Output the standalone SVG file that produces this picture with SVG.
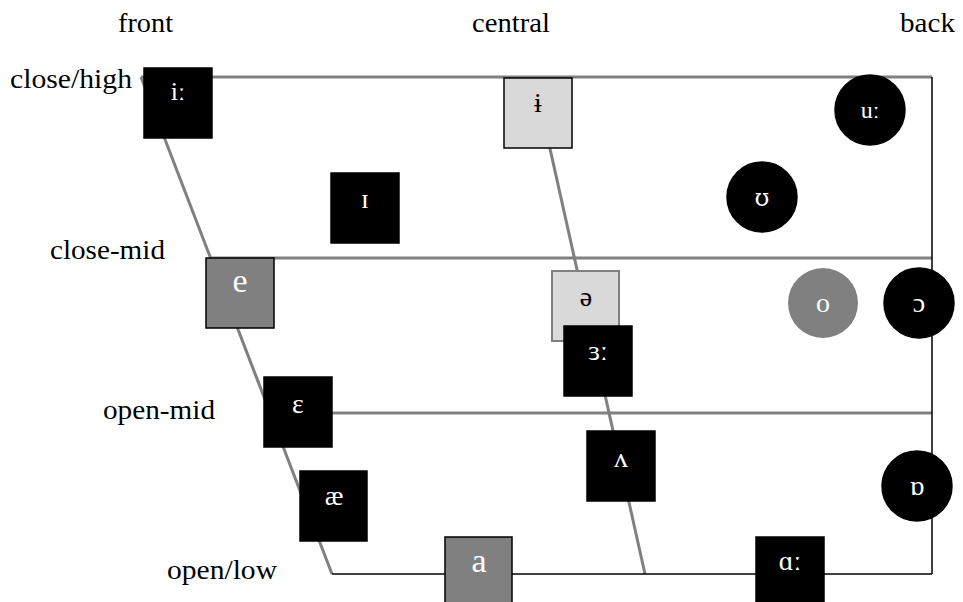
<svg xmlns="http://www.w3.org/2000/svg" width="963" height="602" viewBox="0 0 963 602">
  <style>
    .axis { font-family: "Liberation Serif", "Times New Roman", serif; font-size: 27px; fill: #000; }
    .grid { stroke: #808080; stroke-width: 3; fill: none; }
    .edge { stroke: #000; stroke-width: 1.5; fill: none; }
    .sym { font-family: "Liberation Serif", "DejaVu Serif", serif; font-size: 28px; text-anchor: middle; }
    .big { font-size: 34px; }
    .small { font-size: 24px; }
    .alt { font-family: "DejaVu Serif", serif; font-size: 24px; }
    .dark rect, .dark circle { fill: #000; stroke: #000; stroke-width: 1.5; }
    .mid rect { fill: #808080; stroke: #000; stroke-width: 1.5; }
    .mid circle { fill: #808080; stroke: none; }
    .pale rect { fill: #d9d9d9; stroke: #000; stroke-width: 1.5; }
    .pale2 rect { fill: #d9d9d9; stroke: #808080; stroke-width: 2; }
    .dark text, .mid text { fill: #fff; }
    .pale text, .pale2 text { fill: #000; }
  </style>

  <!-- axis labels -->
  <g id="labels">
    <text class="axis" x="118" y="32" textLength="55" lengthAdjust="spacingAndGlyphs">front</text>
    <text class="axis" x="472" y="32" textLength="78" lengthAdjust="spacingAndGlyphs">central</text>
    <text class="axis" x="900" y="32" textLength="55" lengthAdjust="spacingAndGlyphs">back</text>
    <text class="axis" x="10" y="88" textLength="122" lengthAdjust="spacingAndGlyphs">close/high</text>
    <text class="axis" x="50" y="259" textLength="115" lengthAdjust="spacingAndGlyphs">close-mid</text>
    <text class="axis" x="103" y="419" textLength="112" lengthAdjust="spacingAndGlyphs">open-mid</text>
    <text class="axis" x="167" y="579" textLength="110" lengthAdjust="spacingAndGlyphs">open/low</text>
  </g>

  <!-- vowel trapezoid -->
  <g id="connectors">
    <line class="grid" x1="141" y1="77" x2="932" y2="77"/>
    <line class="grid" x1="210" y1="258" x2="932" y2="258"/>
    <line class="grid" x1="270" y1="413" x2="932" y2="413"/>
    <line class="grid" x1="141" y1="77" x2="332" y2="574"/>
    <line class="grid" x1="534" y1="77" x2="645" y2="574"/>
    <line class="edge" x1="932" y1="77" x2="932" y2="574"/>
    <line class="edge" x1="332" y1="574" x2="932" y2="574"/>
  </g>

  <!-- vowels -->
  <g id="v-i-long" class="dark"><rect x="144" y="68" width="68" height="70"/><text class="sym" x="178" y="100" style="font-size:26px">iː</text></g>
  <g id="v-i-bar" class="pale"><rect x="504" y="78" width="68" height="70"/><text class="sym" x="538" y="112">ɨ</text></g>
  <g id="v-u-long" class="dark"><circle cx="870" cy="110" r="35"/><text class="sym small" x="870" y="118">uː</text></g>
  <g id="v-small-i" class="dark"><rect x="331" y="173" width="68" height="70"/><text class="sym" x="365" y="208">ɪ</text></g>
  <g id="v-upsilon" class="dark"><circle cx="762" cy="197" r="35"/><text class="sym alt" x="762" y="206">ʊ</text></g>
  <g id="v-e" class="mid"><rect x="206" y="258" width="68" height="70"/><text class="sym big" x="240" y="292">e</text></g>
  <g id="v-schwa" class="pale2"><rect x="552" y="271" width="67" height="70"/><text class="sym" x="586" y="306">ə</text></g>
  <g id="v-er-long" class="dark"><rect x="564" y="326" width="68" height="70"/><text class="sym" x="598" y="360">ɜː</text></g>
  <g id="v-o" class="mid"><circle cx="823" cy="303" r="35"/><text class="sym" x="823" y="312">o</text></g>
  <g id="v-open-o" class="dark"><circle cx="919" cy="303" r="35"/><text class="sym" x="919" y="312">ɔ</text></g>
  <g id="v-epsilon" class="dark"><rect x="264" y="377" width="68" height="70"/><text class="sym" x="298" y="413">ɛ</text></g>
  <g id="v-wedge" class="dark"><rect x="587" y="431" width="68" height="70"/><text class="sym" x="621" y="467">ʌ</text></g>
  <g id="v-ash" class="dark"><rect x="300" y="471" width="67" height="70"/><text class="sym" x="334" y="505">æ</text></g>
  <g id="v-turned-a" class="dark"><circle cx="917" cy="486" r="35"/><text class="sym" x="917" y="495">ɒ</text></g>
  <g id="v-a" class="mid"><rect x="445" y="537" width="67" height="70"/><text class="sym big" x="479" y="572">a</text></g>
  <g id="v-alpha-long" class="dark"><rect x="756" y="537" width="68" height="70"/><text class="sym" x="790" y="570">ɑː</text></g>
</svg>
